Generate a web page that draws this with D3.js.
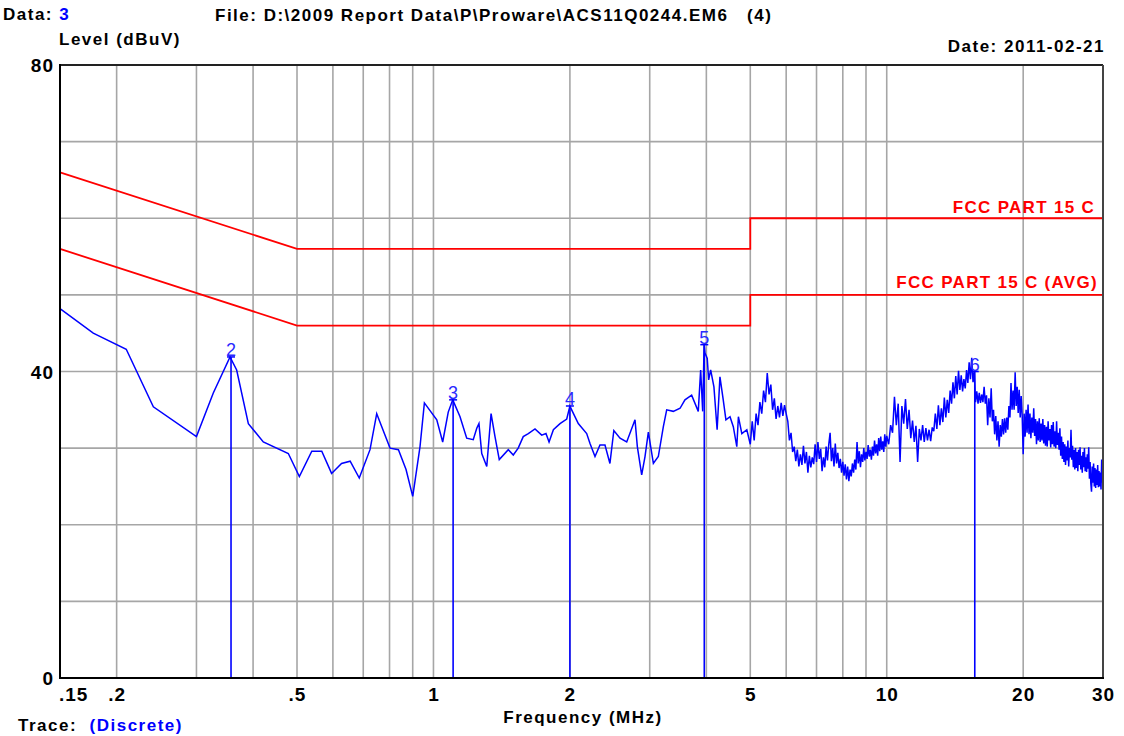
<!DOCTYPE html>
<html>
<head>
<meta charset="utf-8">
<script src="https://cdn.jsdelivr.net/npm/d3@7"></script>
<style>
  html, body { margin: 0; padding: 0; background: #fff; }
  svg { display: block; }
  text { font-family: "Liberation Sans", Arial, sans-serif; }
</style>
</head>
<body>
<svg id="chart" width="1124" height="736"></svg>
<script>
// ---------- data ----------
const yTickLabels = [0, 40, 80];
const yGrid = [10, 20, 30, 40, 50, 60, 70];
const xTickValues = [0.15, 0.2, 0.5, 1, 2, 5, 10, 20, 30];
const xTickLabels = [".15", ".2", ".5", "1", "2", "5", "10", "20", "30"];
const xGrid = [0.2, 0.3, 0.4, 0.5, 0.6, 0.7, 0.8, 0.9, 1, 2, 3, 4, 5, 6, 7, 8, 9, 10, 20];

const limitQP  = [[0.15, 66], [0.5, 56], [5, 56], [5, 60], [30, 60]];
const limitAVG = [[0.15, 56], [0.5, 46], [5, 46], [5, 50], [30, 50]];

const markerNo    = [2, 3, 4, 5, 6];
const markerFreq  = [0.3576, 1.105, 2.0, 3.958, 15.64];
const markerLevel = [41.9, 36.3, 35.5, 43.5, 40.0];

// trace, 0.15 - 5 MHz: [frequency MHz, level dBuV]
const traceLow = [
[0.15,48.2],[0.1776,45.0],[0.21,42.9],[0.241,35.4],[0.3,31.5],[0.3268,37.2],[0.3558,41.9],[0.368,40.2],
[0.3905,33.2],[0.4213,30.8],[0.4784,29.3],[0.506,26.3],[0.539,29.6],[0.567,29.6],[0.596,26.7],[0.627,28.0],
[0.655,28.3],[0.686,26.1],[0.7245,29.8],[0.7496,34.5],[0.769,32.8],[0.802,30.0],[0.837,29.8],[0.87,27.2],
[0.9,23.7],[0.911,25.8],[0.934,30.2],[0.955,35.9],[1.017,33.7],[1.048,30.8],[1.078,34.7],[1.103,36.3],
[1.1445,34.1],[1.184,31.3],[1.224,31.1],[1.246,32.6],[1.26,33.2],[1.278,29.3],[1.311,27.6],[1.34,34.5],
[1.367,31.5],[1.397,28.5],[1.4625,29.8],[1.5,29.1],[1.538,30.0],[1.578,31.5],[1.619,31.9],[1.675,32.5],
[1.733,31.7],[1.771,31.9],[1.799,30.8],[1.839,32.4],[1.902,33.2],[1.968,33.8],[2.0,35.5],[2.018,35.0],
[2.087,33.2],[2.178,31.9],[2.215,30.6],[2.272,28.9],[2.33,30.4],[2.39,30.4],[2.451,28.0],[2.5,32.3],
[2.58,31.3],[2.669,30.8],[2.784,33.7],[2.817,30.2],[2.88,26.5],[2.929,28.9],[2.979,32.1],[3.056,28.0],
[3.134,28.9],[3.215,32.8],[3.27,35.0],[3.382,34.8],[3.5,35.2],[3.588,36.3],[3.712,36.9],[3.839,34.8],
[3.886,40.2],[3.926,34.8],[3.955,43.5],[3.972,42.4],[4.018,41.7],[4.047,38.9],[4.088,40.2],[4.157,38.0],
[4.225,32.4],[4.286,39.3],[4.358,36.3],[4.418,33.7],[4.511,34.1],[4.587,32.8],[4.669,30.2],[4.707,34.1],
[4.79,31.9],[4.913,32.4]
];

// trace, 5 - 10 MHz (dense sweep)
const traceMid = [
[5.00,30.5],[5.05,33.5],[5.10,31.0],[5.15,34.5],[5.20,33.0],[5.25,36.0],[5.30,34.5],[5.35,37.5],[5.40,36.0],[5.45,39.8],
[5.50,37.0],[5.55,38.3],[5.60,35.0],[5.65,36.5],[5.70,33.8],[5.75,35.5],[5.80,34.0],[5.85,35.9],[5.90,34.2],[5.95,35.6],
[6.00,34.5],[6.05,33.5],[6.10,31.0],[6.15,32.0],[6.20,29.5],[6.25,30.2],[6.30,28.3],[6.35,29.8],[6.40,27.6],[6.45,29.2],
[6.50,27.8],[6.55,30.3],[6.60,28.0],[6.65,29.5],[6.70,26.8],[6.75,29.0],[6.80,27.5],[6.85,28.8],[6.90,27.9],[6.95,30.5],
[7.00,28.2],[7.05,30.8],[7.10,28.6],[7.15,29.9],[7.20,27.0],[7.25,28.8],[7.30,27.5],[7.35,30.2],[7.40,28.4],[7.45,30.5],
[7.50,32.0],[7.55,28.3],[7.60,30.0],[7.65,27.6],[7.70,30.6],[7.75,28.0],[7.80,29.4],[7.85,27.4],[7.90,28.6],[7.95,26.8],
[8.00,28.2],[8.05,26.4],[8.10,27.9],[8.15,25.9],[8.20,27.6],[8.25,25.7],[8.30,27.2],[8.35,26.3],[8.40,28.0],[8.45,26.8],
[8.50,28.5],[8.55,27.2],[8.60,30.8],[8.65,28.0],[8.70,29.6],[8.75,27.5],[8.80,29.2],[8.85,28.2],[8.90,30.0],[8.95,28.4],
[9.00,29.5],[9.05,28.6],[9.10,30.4],[9.15,28.9],[9.20,29.8],[9.25,28.5],[9.30,30.2],[9.35,29.0],[9.40,31.0],[9.45,29.3],
[9.50,30.5],[9.55,29.0],[9.60,31.3],[9.65,29.6],[9.70,31.5],[9.75,29.8],[9.80,30.9],[9.85,29.5],[9.90,31.8],[9.95,30.2]
];

// trace, 10 - 30 MHz (dense sweep)
const traceHigh = [
[10.0,31.6],[10.1,30.5],[10.2,33.0],[10.3,32.0],[10.4,36.7],[10.5,33.0],[10.6,35.8],[10.7,28.2],[10.8,35.5],[10.9,33.2],
[11.0,36.4],[11.1,32.5],[11.2,35.0],[11.3,31.3],[11.4,33.6],[11.5,30.8],[11.6,32.9],[11.7,28.2],[11.8,32.5],[11.9,31.0],
[12.0,33.0],[12.1,30.8],[12.2,32.6],[12.3,31.0],[12.4,32.4],[12.5,30.9],[12.6,32.7],[12.7,32.2],[12.8,34.5],[12.9,32.5],
[13.0,35.6],[13.1,33.0],[13.2,35.2],[13.3,33.4],[13.4,36.6],[13.5,34.0],[13.6,36.3],[13.7,34.6],[13.8,37.5],[13.9,35.8],
[14.0,38.6],[14.1,36.5],[14.2,39.4],[14.3,37.0],[14.4,40.1],[14.5,37.6],[14.6,39.5],[14.7,37.4],[14.8,39.0],[14.9,37.8],
[15.0,40.2],[15.1,38.5],[15.2,41.2],[15.3,39.0],[15.4,41.8],[15.5,38.6],[15.6,40.0],[15.7,36.0],[15.8,37.4],[15.9,35.8],
[16.0,37.2],[16.1,35.9],[16.2,37.0],[16.3,36.0],[16.4,38.0],[16.5,35.8],[16.6,36.9],[16.7,33.0],[16.8,36.5],[16.9,34.0],
[17.0,37.8],[17.1,33.5],[17.2,35.0],[17.3,31.8],[17.4,34.2],[17.5,31.0],[17.6,33.5],[17.7,30.2],[17.8,33.0],[17.9,31.5],
[18.0,33.8],[18.1,31.8],[18.2,33.9],[18.3,32.0],[18.4,34.0],[18.5,32.4],[18.6,35.5],[18.7,34.0],[18.8,38.5],[18.9,35.0],
[19.0,37.5],[19.1,35.0],[19.2,39.9],[19.3,35.5],[19.4,38.0],[19.5,34.6],[19.6,37.6],[19.7,34.0],[19.8,36.8],[19.9,34.2],
[20.0,29.2],[20.1,34.5],[20.2,31.5],[20.3,35.0],[20.4,32.0],[20.5,35.7],[20.6,31.8],[20.7,34.5],[20.8,31.3],[20.9,34.0],
[21.0,32.0],[21.1,35.2],[21.2,31.6],[21.3,33.8],[21.4,30.5],[21.5,33.5],[21.6,31.0],[21.7,33.9],[21.8,30.8],[21.9,33.2],
[22.0,31.0],[22.1,33.8],[22.2,30.6],[22.3,33.0],[22.4,30.3],[22.5,32.8],[22.6,30.2],[22.7,33.5],[22.8,31.0],[22.9,32.5],
[23.0,30.1],[23.1,33.0],[23.2,30.5],[23.3,33.4],[23.4,30.2],[23.5,32.2],[23.6,30.0],[23.7,33.5],[23.8,30.4],[23.9,32.0],
[24.0,29.8],[24.1,32.6],[24.2,29.0],[24.3,31.5],[24.4,28.6],[24.5,30.8],[24.6,28.2],[24.7,30.5],[24.8,27.8],[24.9,30.2],
[25.0,28.4],[25.1,31.0],[25.2,27.6],[25.3,30.0],[25.4,28.8],[25.5,32.4],[25.6,28.5],[25.7,30.3],[25.8,27.5],[25.9,29.8],
[26.0,27.2],[26.1,30.0],[26.2,27.4],[26.3,29.5],[26.4,27.0],[26.5,29.8],[26.6,27.8],[26.7,30.1],[26.8,27.2],[26.9,29.0],
[27.0,26.8],[27.1,29.5],[27.2,27.5],[27.3,30.0],[27.4,27.0],[27.5,28.8],[27.6,26.9],[27.7,29.2],[27.8,27.3],[27.9,30.1],
[28.0,26.0],[28.1,28.2],[28.2,25.4],[28.3,24.3],[28.4,27.6],[28.5,25.5],[28.6,28.0],[28.7,25.0],[28.8,27.4],[28.9,24.8],
[29.0,27.2],[29.1,25.2],[29.2,27.8],[29.3,24.9],[29.4,27.0],[29.5,25.0],[29.6,26.8],[29.7,24.6],[29.8,28.5],[29.9,25.5],
[30.0,29.8]
];

// ---------- layout ----------
const svg = d3.select("#chart");
const L = 60, R = 1103, T = 65, B = 678;
const x = d3.scaleLog().domain([0.15, 30]).range([L, R]);
const y = d3.scaleLinear().domain([0, 80]).range([B, T]);

svg.append("rect").attr("width", 1124).attr("height", 736).attr("fill", "#fff");

// grid
svg.append("g").selectAll("line").data(yGrid).join("line")
  .attr("x1", L).attr("x2", R).attr("y1", d => y(d)).attr("y2", d => y(d))
  .attr("stroke", "#a6a6a6").attr("stroke-width", 1.6);
svg.append("g").selectAll("line").data(xGrid).join("line")
  .attr("x1", d => x(d)).attr("x2", d => x(d)).attr("y1", T).attr("y2", B)
  .attr("stroke", "#a6a6a6").attr("stroke-width", 1.6);

// limit lines
const lim = d3.line().x(d => x(d[0])).y(d => y(d[1]));
[limitQP, limitAVG].forEach(l => {
  svg.append("path").attr("d", lim(l)).attr("fill", "none")
    .attr("stroke", "#ff0000").attr("stroke-width", 1.8);
});
const redLabel = (t, xx, yy) => svg.append("text").attr("x", xx).attr("y", yy).attr("text-anchor", "end")
  .attr("fill", "#ff0000").attr("font-size", 17).attr("font-weight", "bold")
  .attr("letter-spacing", 1.3).text(t);
redLabel("FCC PART 15 C", 1095, y(60) - 5);
redLabel("FCC PART 15 C (AVG)", 1098, y(50) - 7);

// trace
const trace = traceLow.concat(traceMid, traceHigh);
const tl = d3.line().x(d => x(d[0])).y(d => y(d[1]));
svg.append("path").attr("d", tl(trace)).attr("fill", "none")
  .attr("stroke", "#0000ff").attr("stroke-width", 1.5);

// markers
const mk = svg.append("g");
markerNo.forEach((n, i) => {
  const mx = x(markerFreq[i]), my = y(markerLevel[i]);
  mk.append("line").attr("x1", mx).attr("x2", mx).attr("y1", my).attr("y2", B)
    .attr("stroke", "#0000ff").attr("stroke-width", 1.6);
  mk.append("line").attr("x1", mx - 4).attr("x2", mx + 4).attr("y1", my).attr("y2", my)
    .attr("stroke", "#0000ff").attr("stroke-width", 1.5);
  mk.append("text").attr("x", mx).attr("y", my - 1).attr("text-anchor", "middle")
    .attr("fill", "#2a2aff").attr("font-size", 18).text(n);
});

// frame
svg.append("line").attr("x1", L).attr("x2", R).attr("y1", T).attr("y2", T).attr("stroke", "#222").attr("stroke-width", 2);
svg.append("line").attr("x1", R).attr("x2", R).attr("y1", T).attr("y2", B).attr("stroke", "#444").attr("stroke-width", 2);
svg.append("line").attr("x1", L).attr("x2", L).attr("y1", T - 1).attr("y2", B + 1).attr("stroke", "#000").attr("stroke-width", 2);
svg.append("line").attr("x1", L - 1).attr("x2", R + 1).attr("y1", B).attr("y2", B).attr("stroke", "#000").attr("stroke-width", 2);

// axis labels
svg.append("g").selectAll("text").data(yTickLabels).join("text")
  .attr("x", 54).attr("y", d => y(d) + 7).attr("text-anchor", "end")
  .attr("font-size", 19).attr("font-weight", "bold").attr("letter-spacing", 1).text(d => d);
svg.append("g").selectAll("text").data(xTickValues).join("text")
  .attr("x", (d, i) => i === 0 ? x(d) - 1 : x(d) + 0.5)
  .attr("y", 701).attr("text-anchor", (d, i) => i === 0 ? "start" : "middle")
  .attr("font-size", 19).attr("font-weight", "bold").attr("letter-spacing", 1)
  .text((d, i) => xTickLabels[i]);

const bold = (t, xx, yy, anchor, fill) => svg.append("text").attr("x", xx).attr("y", yy)
  .attr("text-anchor", anchor || "start").attr("font-size", 17).attr("font-weight", "bold")
  .attr("letter-spacing", 1.5).attr("fill", fill || "#000").style("white-space", "pre").text(t);

const d1 = bold("Data: ", 3, 20);
d1.append("tspan").attr("fill", "#0000ff").text("3");
bold("File: D:\\2009 Report Data\\P\\Proware\\ACS11Q0244.EM6   (4)", 215, 21);
bold("Level (dBuV)", 59, 45);
bold("Date: 2011-02-21", 1105, 52, "end");
bold("Frequency (MHz)", 583, 723, "middle");
const tr = bold("Trace:  ", 18, 731);
tr.append("tspan").attr("fill", "#0000ff").text("(Discrete)");
</script>
</body>
</html>
